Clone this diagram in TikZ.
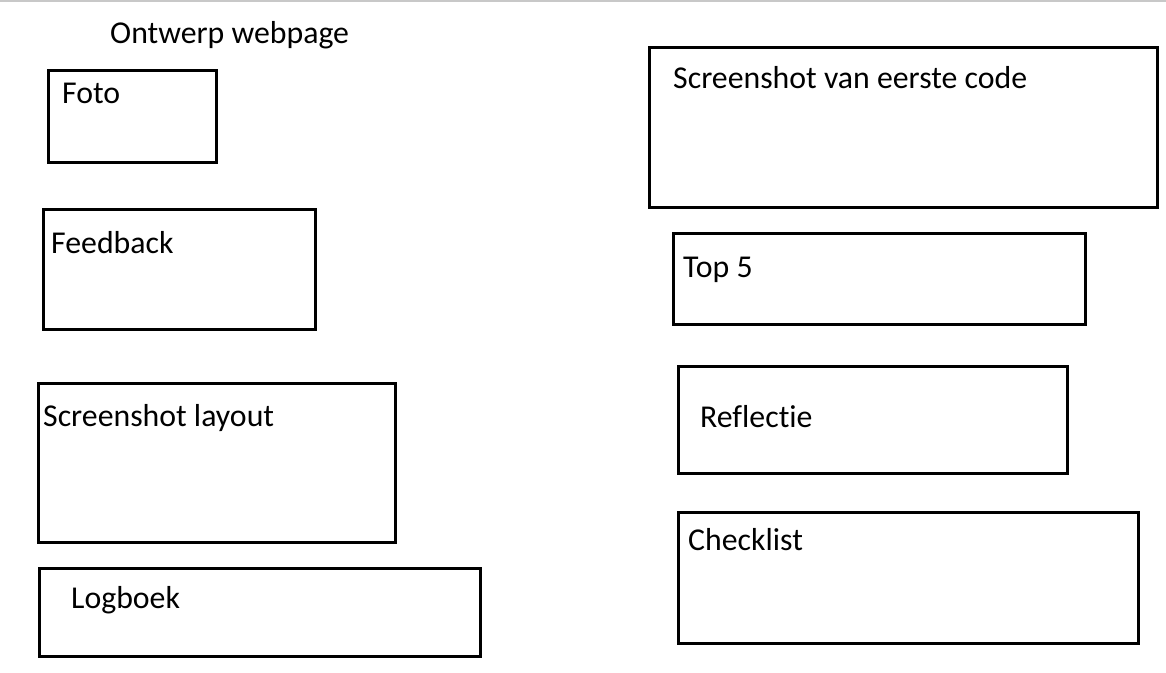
\documentclass[tikz,border=0pt]{standalone}
\usepackage{fontspec}
\setmainfont{Carlito}[Ligatures=NoCommon]
\usepackage{xcolor}
\definecolor{edge}{HTML}{000000}
\definecolor{rule}{HTML}{C8C8C8}
\usepackage{tikz}
\usetikzlibrary{positioning}

\begin{document}
\begin{tikzpicture}[
    x=1pt, y=-1pt,
    font=\fontsize{31.8}{36}\selectfont,
    box/.style={draw=edge, line width=3pt, inner sep=0pt, fill=white},
    lbl/.style={anchor=base west, inner sep=0pt, text=black},
]
% -- page frame --
\useasboundingbox (0,0) rectangle (1166,672);
\draw[rule, line width=2pt] (0,1) -- (1166,1);

% -- title --
\node[lbl] (title) at (110,43) {Ontwerp webpage};

% -- left column --
\node[box, minimum width=168pt, minimum height=92pt] (foto) at (132,116) {};
\node[box, minimum width=272pt, minimum height=120pt] (feedback) at (179,269) {};
\node[box, minimum width=357pt, minimum height=159pt] (layout) at (216.5,462.5) {};
\node[box, minimum width=441pt, minimum height=88pt] (logboek) at (259.5,612) {};

\node[lbl] (fotolbl) at (62,103) {Foto};
\node[lbl] (feedbacklbl) at (51,253) {Feedback};
\node[lbl] (layoutlbl) at (43,426) {Screenshot layout};
\node[lbl] (logboeklbl) at (71,608) {Logboek};

% -- right column --
\node[box, minimum width=508pt, minimum height=160pt] (code) at (903,127) {};
\node[box, minimum width=412pt, minimum height=91pt] (top) at (879,278.5) {};
\node[box, minimum width=389pt, minimum height=107pt] (reflectie) at (872.5,419.5) {};
\node[box, minimum width=460pt, minimum height=131pt] (checklist) at (908,577.5) {};

\node[lbl] (codelbl) at (673,88) {Screenshot van eerste code};
\node[lbl] (toplbl) at (683,277) {Top 5};
\node[lbl] (reflectielbl) at (700,427) {Reflectie};
\node[lbl] (checklistlbl) at (688,550) {Checklist};
\end{tikzpicture}
\end{document}
